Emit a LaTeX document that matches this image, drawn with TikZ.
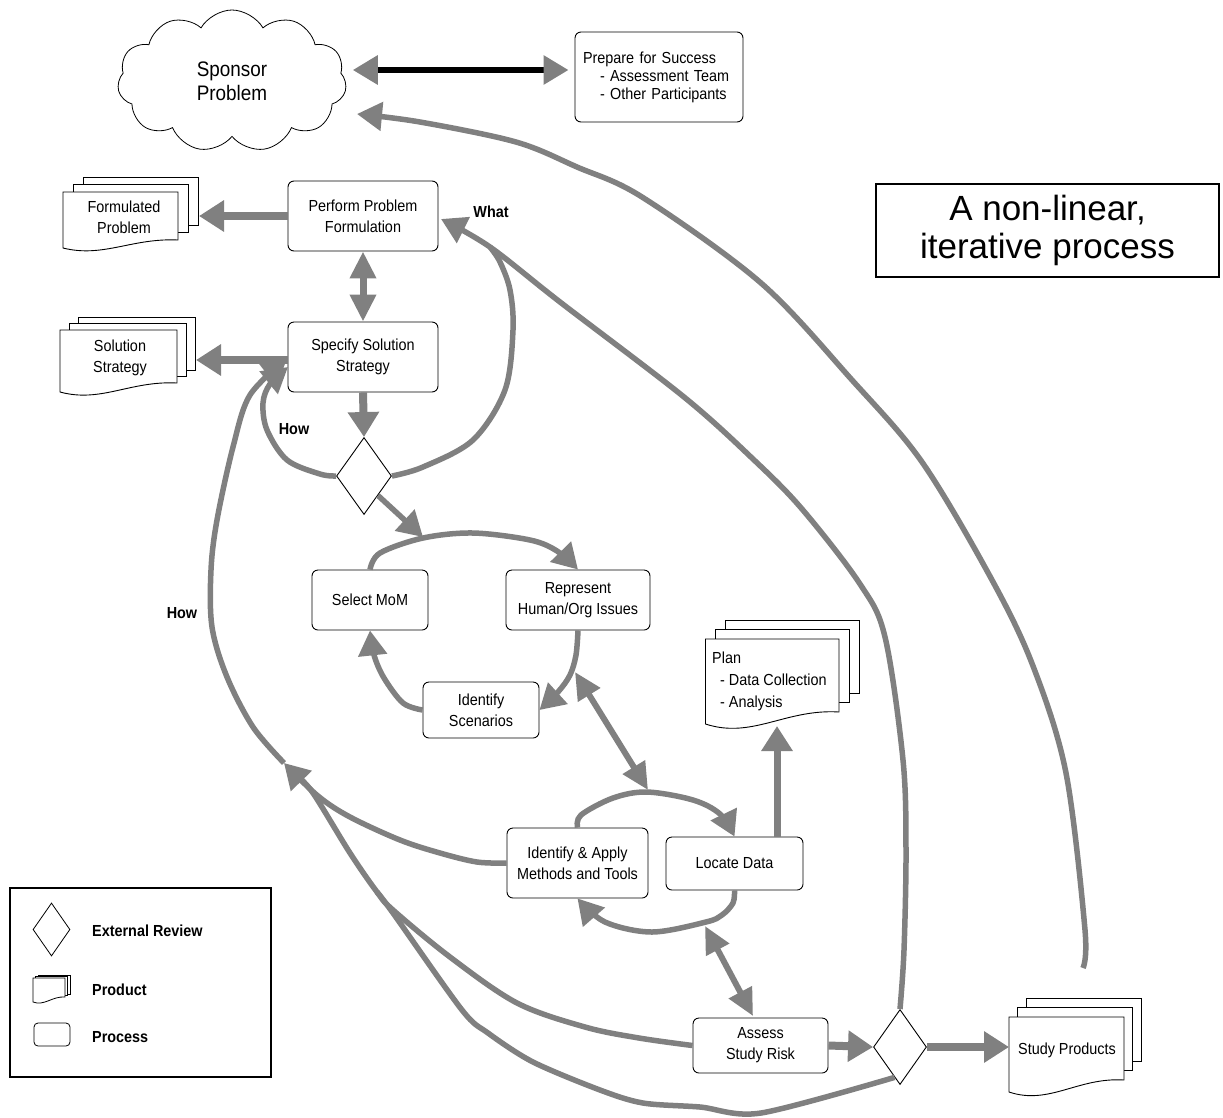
\documentclass[tikz,border=0pt]{standalone}
\usepackage{fontspec}
\setmainfont[FakeStretch=0.9]{Liberation Sans}
\newfontfamily\titlefont{Liberation Sans}
\usetikzlibrary{arrows.meta,shapes.geometric,shapes.symbols,calc}
\definecolor{ag}{RGB}{128,128,128}
% #2 x1, #3 y1 (front top), #4 x2, #5 y bottom-left, #6 y bottom-right, #7 dx, #8 dy
\newcommand{\docstack}[8][0.9pt]{%
  \draw[line width=#1, fill=white] ({#2+2*#7},{#3-2*#8}) rectangle ({#4+2*#7},{#6-2*#8});
  \draw[line width=#1, fill=white] ({#2+#7},{#3-#8}) rectangle ({#4+#7},{#6-#8});
  \draw[line width=#1, fill=white] (#2,#3) -- (#4,#3) -- (#4,#6)
     .. controls ({#2+0.6*(#4-#2)},{#6-0.04*(#5-#3)}) and ({#2+0.35*(#4-#2)},{#5+0.18*(#5-#3)}) .. (#2,#5) -- cycle;
}
\begin{document}
\begin{tikzpicture}[x=1pt,y=-1pt,
  proc/.style={draw, rounded corners=6pt, line width=0.9pt, fill=white, align=center, inner sep=2pt, font=\fontsize{16}{21}\selectfont},
  rev/.style={draw, diamond, fill=white, line width=0.9pt, inner sep=0pt},
  flow/.style={draw=ag, line width=5.5pt, line join=round, -{Triangle[length=25pt,width=28pt]}},
  big/.style={draw=ag, line width=8pt, -{Triangle[length=25pt,width=30pt]}},
  dbl/.style={draw=ag, line width=6pt, {Triangle[length=27pt,width=25pt]}-{Triangle[length=27pt,width=25pt]}},
  link/.style={draw=ag, line width=5.5pt, line join=round},
  lbl/.style={font=\fontsize{16}{19}\selectfont\bfseries, inner sep=0pt},
  doctext/.style={align=center, font=\fontsize{16}{21}\selectfont, inner sep=0pt}]
\useasboundingbox (0,0) rectangle (1223,1117);
\fill[white] (0,0) rectangle (1223,1117);

% ---------- top row ----------
\node[cloud, draw, fill=white, cloud puffs=11, cloud puff arc=120, cloud ignores aspect,
      minimum width=229pt, minimum height=142pt, line width=0.8pt, align=center,
      font=\fontsize{21}{24}\selectfont] (cloud) at (232,81) {Sponsor\\Problem};
\node[proc, minimum width=168pt, minimum height=90pt, align=left, text width=152pt,
      font=\fontsize{16}{18}\selectfont] (prepare) at (659,77)
      {Prepare for Success\\\hspace*{17pt}- Assessment Team\\\hspace*{17pt}- Other Participants};

% ---------- products ----------
\docstack{63}{192}{178}{248}{240}{10}{7.5}
\node[doctext] (formulated) at (124,217) {Formulated\\Problem};
\coordinate (formulated-e) at (199,216);

\docstack{60}{330}{177}{392}{383}{9}{6.5}
\node[doctext] (solution) at (120,358) {Solution\\Strategy};
\coordinate (solution-e) at (196,360);

\docstack{705.5}{639}{839}{724}{712}{10}{9.5}
\node[doctext, anchor=west, align=left, font=\fontsize{16}{22}\selectfont] (plan) at (712,681)
      {Plan\\\hspace*{8pt}- Data Collection\\\hspace*{8pt}- Analysis};
\coordinate (plan-in) at (777,726);

\docstack{1009}{1017}{1124}{1092}{1080}{8.5}{9.5}
\node[doctext] (study) at (1067,1050) {Study Products};
\coordinate (study-w) at (1009,1047);
\coordinate (study-top) at (1083,968);

% ---------- processes ----------
\node[proc, minimum width=150pt, minimum height=70pt] (perform) at (363,216) {Perform Problem\\Formulation};
\node[proc, minimum width=150pt, minimum height=70pt] (specify) at (363,357) {Specify Solution\\Strategy};
\node[rev, minimum width=55pt, minimum height=77pt] (dia1) at (364,476) {};
\node[proc, minimum width=116pt, minimum height=60pt] (select) at (370,600) {Select MoM};
\node[proc, minimum width=144pt, minimum height=60pt] (represent) at (578,600) {Represent\\Human/Org Issues};
\node[proc, minimum width=116pt, minimum height=56pt] (scen) at (481,710) {Identify\\Scenarios};
\node[proc, minimum width=141pt, minimum height=70pt] (apply) at (577.5,863) {Identify \& Apply\\Methods and Tools};
\node[proc, minimum width=137pt, minimum height=53pt] (locate) at (734.5,863.5) {Locate Data};
\node[proc, minimum width=135pt, minimum height=55pt] (assess) at (760.5,1045.5) {Assess\\Study Risk};
\node[rev, minimum width=53pt, minimum height=75pt] (dia2) at (900,1047) {};

% ---------- title ----------
\node[draw, line width=1.2pt, minimum width=343pt, minimum height=93pt, align=center,
      font=\titlefont\fontsize{35}{38}\selectfont] (title) at (1047.5,230.5) {A non-linear,\\iterative process};

% ---------- labels ----------
\node[lbl] (what) at (491,212) {What};
\node[lbl] (how1) at (294,429) {How};
\node[lbl] (how2) at (182,613) {How};

% ---------- legend ----------
\node[draw, line width=1.2pt, minimum width=261pt, minimum height=189pt] (legend) at (140.5,982.5) {};
\node[rev, minimum width=37pt, minimum height=53pt, line width=0.8pt] (legdia) at (51.5,929.5) {};
\node[lbl, anchor=west] (legrev) at (92,931) {External Review};
\docstack[0.8pt]{33}{978}{65}{1002}{997}{2.5}{1.5}
\node[lbl, anchor=west] (legprod) at (92,990) {Product};
\node[draw, rounded corners=4pt, line width=0.8pt, minimum width=36pt, minimum height=23pt] (legproc) at (52,1034.5) {};
\node[lbl, anchor=west] (legprocl) at (92,1037) {Process};

% ---------- named junctions ----------
\coordinate (cloud-in) at (357,114);
\coordinate (perform-in) at (441,219);
\coordinate (what-join) at (490,247);
\coordinate (specify-in1) at (288,367);
\coordinate (specify-in2) at (287,359);
\coordinate (junction) at (284,763);
\coordinate (c1-top) at (423,537);
\coordinate (c1a) at (575,672);
\coordinate (c1b) at (648,790);
\coordinate (c2a) at (705,926);
\coordinate (c2b) at (753,1016);

% ---------- connectors ----------
\draw[line width=6pt, shorten <=7pt, shorten >=6pt,
      {Triangle[length=25pt,width=28pt,color=ag]}-{Triangle[length=25pt,width=28pt,color=ag]}]
      (cloud.east |- 0,70) -- (prepare.west |- 0,70);

\draw[big] (perform.west) -- (formulated-e);
\draw[big] (specify.west |- 0,360) -- (solution-e);
\draw[big] (specify.south) -- (dia1.north);
\draw[dbl, line width=7pt] (perform.south) -- (specify.north);

% long return to sponsor
\draw[flow] plot[smooth, tension=0.55] coordinates {(study-top) (1085,930) (1066,773) (1033,666) (992,580) (922,462) (852,380) (761,283) (642,197) (577,167) (516,142) (420,122) (cloud-in)};
% review 1 back (What), joining the line from review 2
\draw[link] plot[smooth, tension=0.55] coordinates {(dia1.east) (423,467) (473,440) (505,390) (513,330) (510,290) (500,262) (what-join)};
% review 2 back to problem formulation (What)
\draw[flow] plot[smooth, tension=0.55] coordinates {(dia2.north) (904,950) (906,850) (903,760) (885,637) (860,584) (802,509) (753,459) (684,397) (560,302) (what-join) (perform-in)};
% review 1 back (How)
\draw[flow] plot[smooth, tension=0.55] coordinates {(dia1.west) (320,474) (287,460) (267,430) (263,403) (270,384) (specify-in1)};
% long How
\draw[flow] plot[smooth, tension=0.55] coordinates {(junction) (253,727) (227,677) (212,627) (211,570) (217,520) (233,447) (250,395) (specify-in2)};
% feeders to the junction
\draw[link] plot[smooth, tension=0.55] coordinates {(assess.west) (639,1038) (585,1027) (517,1003) (450,957) (393,910) (377,892) (350,853) (313,793) (296,775)};
\draw[link] plot[smooth, tension=0.5] coordinates {($(dia2.south)!0.2!(dia2.west)$) (761,1113) (700,1107) (643,1103) (600,1090) (533,1062) (488,1033) (462,1010) (393,913) (377,892)};
\draw[flow] plot[smooth, tension=0.55] coordinates {(apply.west) (477,862) (440,853) (400,840) (350,817) (318,796) (junction)};

% cycle 1
\draw[flow] ($(dia1.east)!0.5!(dia1.south)$) -- (c1-top);
\draw[flow] plot[smooth, tension=0.55] coordinates {(select.north) (380,553) (423,538) (473,533) (530,540) (557,551) (represent.north)};
\draw[flow] plot[smooth, tension=0.55] coordinates {(represent.south) (576,655) (570,675) (558,692) (scen.east)};
\draw[flow] plot[smooth, tension=0.55] coordinates {(scen.west) (403,703) (384,678) (374,655) (select.south)};
\draw[dbl] (c1a) -- (c1b);

% cycle 2
\draw[flow] plot[smooth, tension=0.55] coordinates {(apply.north) (581,815) (613,798) (647,792) (693,800) (720,814) (locate.north)};
\draw[flow] plot[smooth, tension=0.55] coordinates {(locate.south) (733,903) (722,915) (706,922) (652,932) (605,922) (apply.south)};
\draw[big, line width=7pt] (locate.north -| plan-in) -- (plan-in);
\draw[dbl] (c2a) -- (c2b);

% bottom row
\draw[big] (assess.east) -- (dia2.west);
\draw[big] (dia2.east) -- (study-w);
\end{tikzpicture}
\end{document}
